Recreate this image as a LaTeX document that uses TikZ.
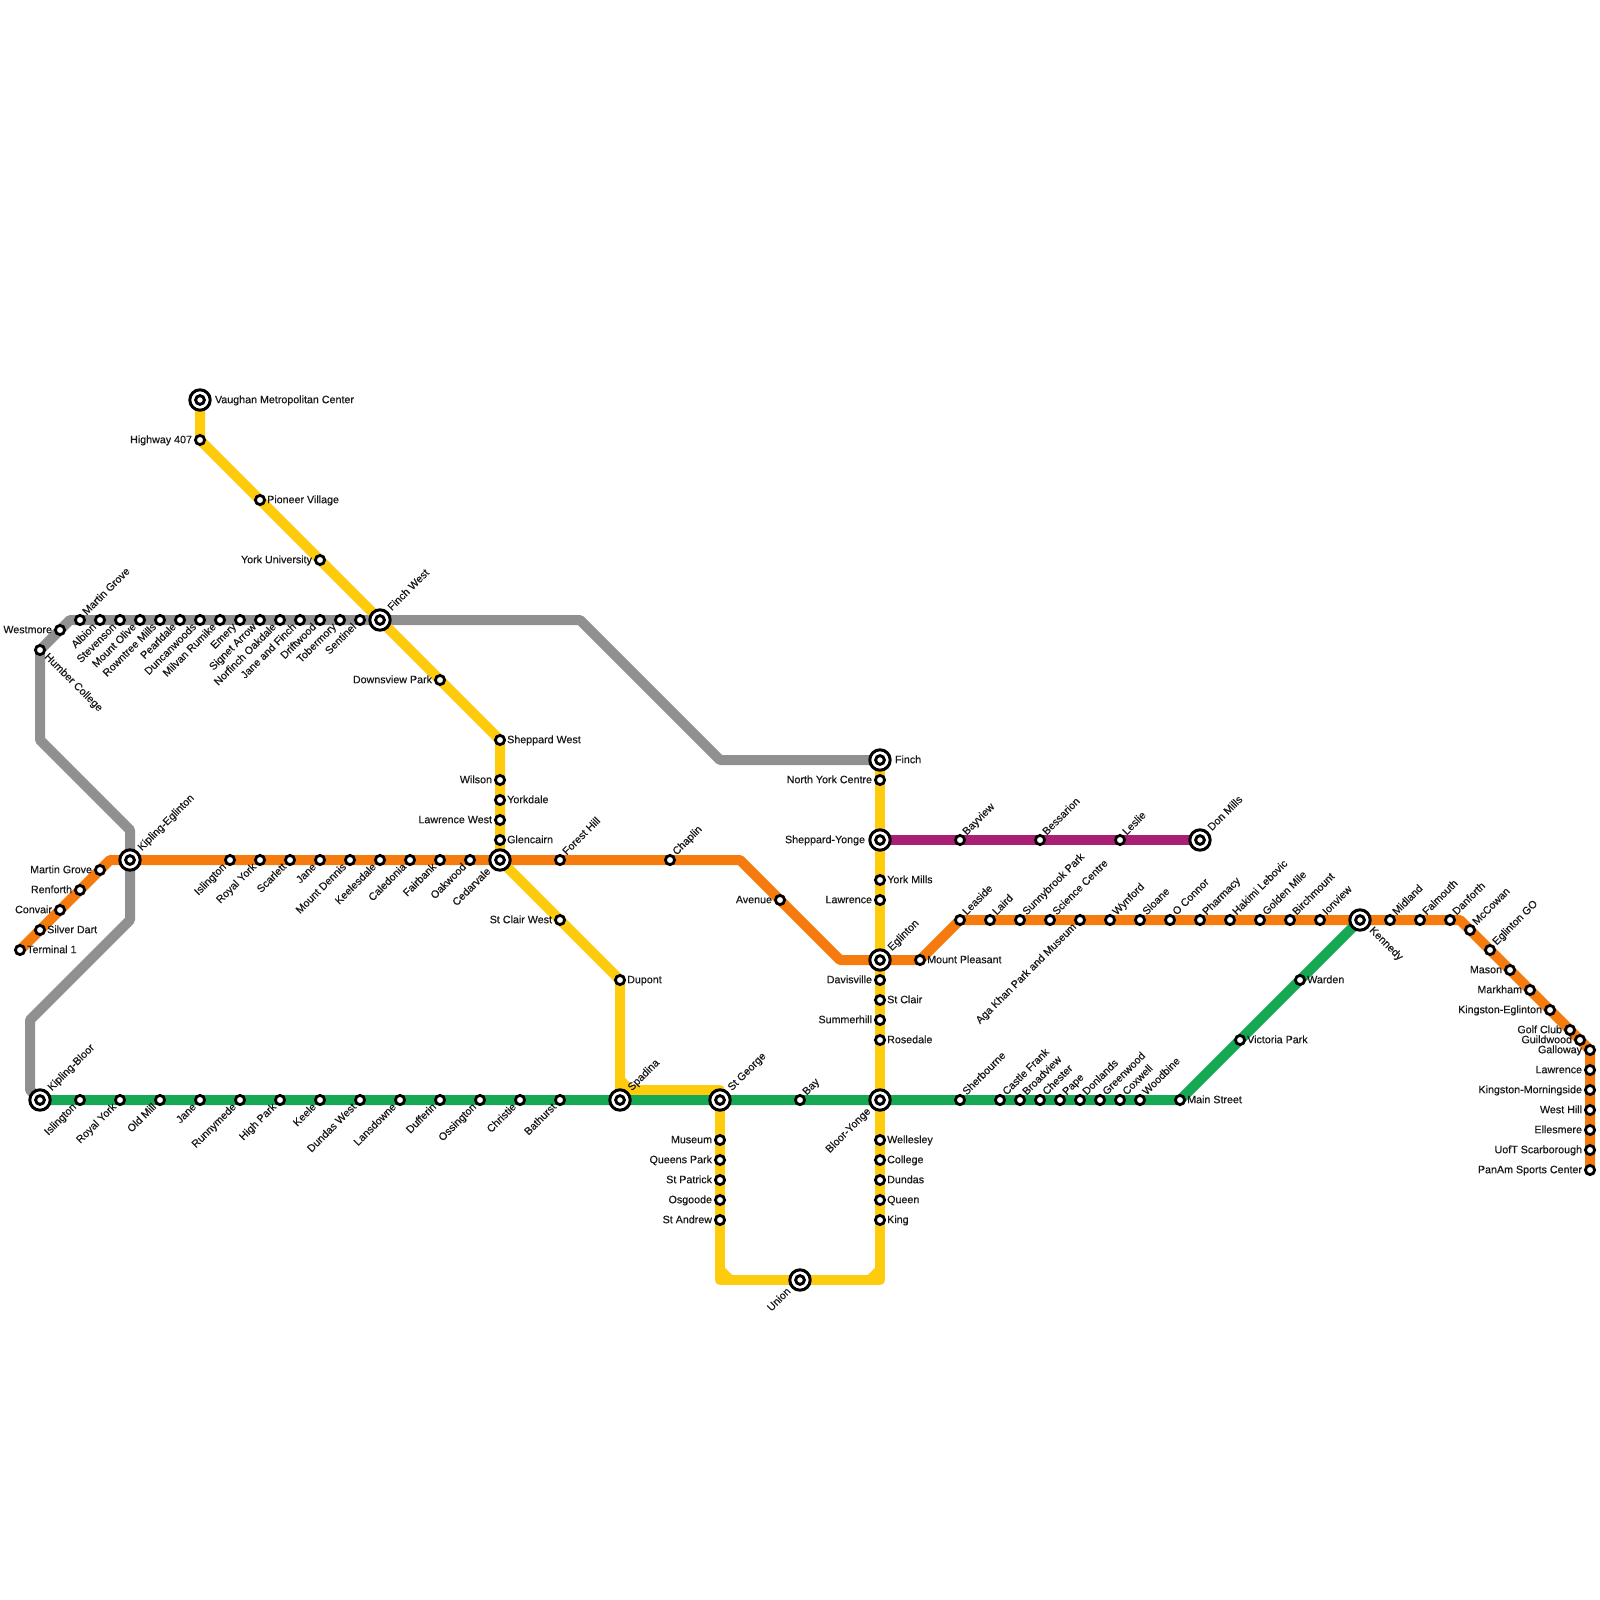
\documentclass[tikz,border=0pt]{standalone}
\usepackage{fontspec}
\setmainfont{Liberation Sans}
\newfontfamily\lab[FakeBold=0.45]{Liberation Sans}
\pgfdeclarelayer{bg}
\pgfsetlayers{bg,main}
\definecolor{cgrey}{HTML}{909090}
\definecolor{corange}{HTML}{F57B0E}
\definecolor{cyellow}{HTML}{FFCB0D}
\definecolor{cgreen}{HTML}{17A854}
\definecolor{cpurple}{HTML}{A81F73}
\tikzset{
  x=.5pt,y=-.5pt,
  stn/.style={circle,draw=black,fill=white,line width=1.4pt,minimum size=4.6pt,inner sep=0pt,outer sep=0pt},
  bstn/.style={circle,draw=black,fill=white,line width=1.5pt,minimum size=10.2pt,inner sep=0pt,outer sep=0pt,
    path picture={\draw[black,line width=1.45pt] (path picture bounding box.center) circle (2.2pt);}},
  lbl/.style={font=\lab\fontsize{5.35}{6}\selectfont,text=black!90,inner sep=0pt,outer sep=0pt},
  lr/.style={lbl,anchor=base west,xshift=3.6pt,yshift=-1.6pt},
  ll/.style={lbl,anchor=base east,xshift=-4pt,yshift=-1.6pt},
  lur/.style={lbl,anchor=base west,xshift=3.4pt,yshift=2.2pt,rotate=45},
  ldl/.style={lbl,anchor=base east,xshift=-1.6pt,yshift=-3.8pt,rotate=45},
  ldr/.style={lbl,anchor=base west,xshift=2pt,yshift=-3.7pt,rotate=-45},
  blr/.style={lbl,anchor=base west,xshift=7.5pt,yshift=-1.6pt},
  bur/.style={lbl,anchor=base west,xshift=6pt,yshift=4.4pt,rotate=45},
  bdl/.style={lbl,anchor=base east,xshift=-4.4pt,yshift=-6pt,rotate=45},
  bdr/.style={lbl,anchor=base west,xshift=4.5pt,yshift=-5.5pt,rotate=-45},
  bll/.style={lbl,anchor=base east,xshift=-7.5pt,yshift=-1.6pt},
  route/.style={line width=5pt,line join=round},
  grey line/.style={route,draw=cgrey},
  orange line/.style={route,draw=corange},
  yellow line/.style={route,draw=cyellow},
  green line/.style={route,draw=cgreen},
  purple line/.style={route,draw=cpurple},
}
\newcommand\st[5]{\node[stn] (#1) at (#2,#3) {}; \node[#4] (L#1) at (#1.center) {#5};}
\newcommand\bst[5]{\node[bstn] (#1) at (#2,#3) {}; \node[#4] (L#1) at (#1.center) {#5};}
\begin{document}
\begin{tikzpicture}
\useasboundingbox (0,0) rectangle (1600,1600);
% interchanges
\bst{vau}{200}{400}{blr}{Vaughan Metropolitan Center}
\bst{fiw}{380}{620}{bur}{Finch West}
\bst{kie}{130}{860}{bur}{Kipling-Eglinton}
\bst{ced}{500}{860}{bdl}{Cedarvale}
\bst{fin}{880}{760}{blr}{Finch}
\bst{she}{880}{840}{bll}{Sheppard-Yonge}
\bst{egl}{880}{960}{bur}{Eglinton}
\bst{don}{1200}{840}{bur}{Don Mills}
\bst{ken}{1360}{920}{bdr}{Kennedy}
\bst{kib}{40}{1100}{bur}{Kipling-Bloor}
\bst{spa}{620}{1100}{bur}{Spadina}
\bst{stg}{720}{1100}{bur}{St George}
\bst{blo}{880}{1100}{bdl}{Bloor-Yonge}
\bst{uni}{800}{1280}{bdl}{Union}
% yellow
\st{hwy}{200}{440}{ll}{Highway 407}
\st{pio}{260}{500}{lr}{Pioneer Village}
\st{yor}{320}{560}{ll}{York University}
\st{dow}{440}{680}{ll}{Downsview Park}
\st{shw}{500}{740}{lr}{Sheppard West}
\st{wil}{500}{780}{ll}{Wilson}
\st{yod}{500}{800}{lr}{Yorkdale}
\st{law}{500}{820}{ll}{Lawrence West}
\st{gle}{500}{840}{lr}{Glencairn}
\st{scw}{560}{920}{ll}{St Clair West}
\st{dup}{620}{980}{lr}{Dupont}
\st{mus}{720}{1140}{ll}{Museum}
\st{que}{720}{1160}{ll}{Queens Park}
\st{stp}{720}{1180}{ll}{St Patrick}
\st{osg}{720}{1200}{ll}{Osgoode}
\st{sta}{720}{1220}{ll}{St Andrew}
\st{kin}{880}{1220}{lr}{King}
\st{qun}{880}{1200}{lr}{Queen}
\st{dun}{880}{1180}{lr}{Dundas}
\st{col}{880}{1160}{lr}{College}
\st{wel}{880}{1140}{lr}{Wellesley}
\st{ros}{880}{1040}{lr}{Rosedale}
\st{sum}{880}{1020}{ll}{Summerhill}
\st{scl}{880}{1000}{lr}{St Clair}
\st{dav}{880}{980}{ll}{Davisville}
\st{lwr}{880}{900}{ll}{Lawrence}
\st{ymi}{880}{880}{lr}{York Mills}
\st{nyc}{880}{780}{ll}{North York Centre}
% grey
\st{hum}{40}{650}{ldr}{Humber College}
\st{wes}{60}{630}{ll}{Westmore}
\st{gmg}{80}{620}{lur}{Martin Grove}
\st{alb}{100}{620}{ldl}{Albion}
\st{ste}{120}{620}{ldl}{Stevenson}
\st{mol}{140}{620}{ldl}{Mount Olive}
\st{row}{160}{620}{ldl}{Rowntree Mills}
\st{pea}{180}{620}{ldl}{Pearldale}
\st{duc}{200}{620}{ldl}{Duncanwoods}
\st{mil}{220}{620}{ldl}{Milvan Rumike}
\st{eme}{240}{620}{ldl}{Emery}
\st{sig}{260}{620}{ldl}{Signet Arrow}
\st{nor}{280}{620}{ldl}{Norfinch Oakdale}
\st{jaf}{300}{620}{ldl}{Jane and Finch}
\st{dri}{320}{620}{ldl}{Driftwood}
\st{tob}{340}{620}{ldl}{Tobermory}
\st{sen}{360}{620}{ldl}{Sentinel}
% orange west
\st{ter}{20}{950}{lr}{Terminal 1}
\st{sil}{40}{930}{lr}{Silver Dart}
\st{con}{60}{910}{ll}{Convair}
\st{ren}{80}{890}{ll}{Renforth}
\st{omg}{100}{870}{ll}{Martin Grove}
\st{ois}{230}{860}{ldl}{Islington}
\st{ory}{260}{860}{ldl}{Royal York}
\st{sca}{290}{860}{ldl}{Scarlett}
\st{oja}{320}{860}{ldl}{Jane}
\st{mde}{350}{860}{ldl}{Mount Dennis}
\st{kee}{380}{860}{ldl}{Keelesdale}
\st{cal}{410}{860}{ldl}{Caledonia}
\st{fai}{440}{860}{ldl}{Fairbank}
\st{oak}{470}{860}{ldl}{Oakwood}
\st{for}{560}{860}{lur}{Forest Hill}
\st{cha}{670}{860}{lur}{Chaplin}
\st{ave}{780}{900}{ll}{Avenue}
\st{mpl}{920}{960}{lr}{Mount Pleasant}
\st{lea}{960}{920}{lur}{Leaside}
\st{lai}{990}{920}{lur}{Laird}
\st{sun}{1020}{920}{lur}{Sunnybrook Park}
\st{sci}{1050}{920}{lur}{Science Centre}
\st{aga}{1080}{920}{ldl}{Aga Khan Park and Museum}
\st{wyn}{1110}{920}{lur}{Wynford}
\st{slo}{1140}{920}{lur}{Sloane}
\st{ocn}{1170}{920}{lur}{O Connor}
\st{pha}{1200}{920}{lur}{Pharmacy}
\st{hak}{1230}{920}{lur}{Hakimi Lebovic}
\st{gol}{1260}{920}{lur}{Golden Mile}
\st{bir}{1290}{920}{lur}{Birchmount}
\st{ion}{1320}{920}{lur}{Ionview}
\st{mid}{1390}{920}{lur}{Midland}
\st{fal}{1420}{920}{lur}{Falmouth}
\st{dan}{1450}{920}{lur}{Danforth}
\st{mcc}{1470}{930}{lur}{McCowan}
\st{ego}{1490}{950}{lur}{Eglinton GO}
\st{mas}{1510}{970}{ll}{Mason}
\st{mar}{1530}{990}{ll}{Markham}
\st{kgl}{1550}{1010}{ll}{Kingston-Eglinton}
\st{gcl}{1570}{1030}{ll}{Golf Club}
\st{gui}{1580}{1040}{ll}{Guildwood}
\st{gal}{1590}{1050}{ll}{Galloway}
\st{elw}{1590}{1070}{ll}{Lawrence}
\st{kmo}{1590}{1090}{ll}{Kingston-Morningside}
\st{whi}{1590}{1110}{ll}{West Hill}
\st{ell}{1590}{1130}{ll}{Ellesmere}
\st{uof}{1590}{1150}{ll}{UofT Scarborough}
\st{pan}{1590}{1170}{ll}{PanAm Sports Center}
% purple
\st{bay}{960}{840}{lur}{Bayview}
\st{bes}{1040}{840}{lur}{Bessarion}
\st{les}{1120}{840}{lur}{Leslie}
% green
\st{gis}{80}{1100}{ldl}{Islington}
\st{gry}{120}{1100}{ldl}{Royal York}
\st{old}{160}{1100}{ldl}{Old Mill}
\st{gja}{200}{1100}{ldl}{Jane}
\st{run}{240}{1100}{ldl}{Runnymede}
\st{hip}{280}{1100}{ldl}{High Park}
\st{kel}{320}{1100}{ldl}{Keele}
\st{dwe}{360}{1100}{ldl}{Dundas West}
\st{lan}{400}{1100}{ldl}{Lansdowne}
\st{duf}{440}{1100}{ldl}{Dufferin}
\st{oss}{480}{1100}{ldl}{Ossington}
\st{chr}{520}{1100}{ldl}{Christie}
\st{bat}{560}{1100}{ldl}{Bathurst}
\st{bye}{800}{1100}{lur}{Bay}
\st{shb}{960}{1100}{lur}{Sherbourne}
\st{cas}{1000}{1100}{lur}{Castle Frank}
\st{bro}{1020}{1100}{lur}{Broadview}
\st{che}{1040}{1100}{lur}{Chester}
\st{pap}{1060}{1100}{lur}{Pape}
\st{dol}{1080}{1100}{lur}{Donlands}
\st{gre}{1100}{1100}{lur}{Greenwood}
\st{cox}{1120}{1100}{lur}{Coxwell}
\st{woo}{1140}{1100}{lur}{Woodbine}
\st{mai}{1180}{1100}{lr}{Main Street}
\st{vic}{1240}{1040}{lr}{Victoria Park}
\st{war}{1300}{980}{lr}{Warden}
% bends
\coordinate (g1) at (70,620);
\coordinate (g2) at (40,740);
\coordinate (g3) at (130,830);
\coordinate (g4) at (130,920);
\coordinate (g5) at (30,1020);
\coordinate (g6) at (30,1090);
\coordinate (g7) at (580,620);
\coordinate (g8) at (720,760);
\coordinate (o1) at (110,860);
\coordinate (o2) at (740,860);
\coordinate (o3) at (840,960);
\coordinate (o4) at (1460,920);
\coordinate (y1) at (620,1090);
\coordinate (y2) at (720,1090);
\coordinate (y3) at (720,1280);
\coordinate (y4) at (880,1280);
\coordinate (y1a) at (620,1080);
\coordinate (y1b) at (630,1090);
\coordinate (y3a) at (720,1270);
\coordinate (y3b) at (730,1280);
\coordinate (y4a) at (880,1270);
\coordinate (y4b) at (870,1280);
\begin{pgfonlayer}{bg}
\fill[white] (0,0) rectangle (1600,1600);
\draw[grey line] (kib.center) -- (g6) -- (g5) -- (g4) -- (kie.center) -- (g3) -- (g2) -- (hum.center) -- (wes.center) -- (g1) -- (gmg.center) -- (alb.center) -- (ste.center) -- (mol.center) -- (row.center) -- (pea.center) -- (duc.center) -- (mil.center) -- (eme.center) -- (sig.center) -- (nor.center) -- (jaf.center) -- (dri.center) -- (tob.center) -- (sen.center) -- (fiw.center) -- (g7) -- (g8) -- (fin.center);
\draw[orange line] (ter.center) -- (sil.center) -- (con.center) -- (ren.center) -- (omg.center) -- (o1) -- (kie.center) -- (ois.center) -- (ory.center) -- (sca.center) -- (oja.center) -- (mde.center) -- (kee.center) -- (cal.center) -- (fai.center) -- (oak.center) -- (ced.center) -- (for.center) -- (cha.center) -- (o2) -- (ave.center) -- (o3) -- (egl.center) -- (mpl.center) -- (lea.center) -- (lai.center) -- (sun.center) -- (sci.center) -- (aga.center) -- (wyn.center) -- (slo.center) -- (ocn.center) -- (pha.center) -- (hak.center) -- (gol.center) -- (bir.center) -- (ion.center) -- (ken.center) -- (mid.center) -- (fal.center) -- (dan.center) -- (o4) -- (mcc.center) -- (ego.center) -- (mas.center) -- (mar.center) -- (kgl.center) -- (gcl.center) -- (gui.center) -- (gal.center) -- (elw.center) -- (kmo.center) -- (whi.center) -- (ell.center) -- (uof.center) -- (pan.center);
\draw[green line] (kib.center) -- (gis.center) -- (gry.center) -- (old.center) -- (gja.center) -- (run.center) -- (hip.center) -- (kel.center) -- (dwe.center) -- (lan.center) -- (duf.center) -- (oss.center) -- (chr.center) -- (bat.center) -- (spa.center) -- (stg.center) -- (bye.center) -- (blo.center) -- (shb.center) -- (cas.center) -- (bro.center) -- (che.center) -- (pap.center) -- (dol.center) -- (gre.center) -- (cox.center) -- (woo.center) -- (mai.center) -- (vic.center) -- (war.center) -- (ken.center);
\draw[purple line] (she.center) -- (bay.center) -- (bes.center) -- (les.center) -- (don.center);
\draw[yellow line] (vau.center) -- (hwy.center) -- (pio.center) -- (yor.center) -- (fiw.center) -- (dow.center) -- (shw.center) -- (wil.center) -- (yod.center) -- (law.center) -- (gle.center) -- (ced.center) -- (scw.center) -- (dup.center) -- (spa.center);
\draw[yellow line] (y1) -- (y2) -- (stg.center) -- (mus.center) -- (que.center) -- (stp.center) -- (osg.center) -- (sta.center) -- (y3) -- (uni.center) -- (y4) -- (kin.center) -- (qun.center) -- (dun.center) -- (col.center) -- (wel.center) -- (blo.center) -- (ros.center) -- (sum.center) -- (scl.center) -- (dav.center) -- (egl.center) -- (lwr.center) -- (ymi.center) -- (she.center) -- (nyc.center) -- (fin.center);
\draw[yellow line,line join=miter] (y1a) -- (y1b);
\draw[yellow line,line join=miter] (y3a) -- (y3b);
\draw[yellow line,line join=miter] (y4a) -- (y4b);
\end{pgfonlayer}
\end{tikzpicture}
\end{document}
